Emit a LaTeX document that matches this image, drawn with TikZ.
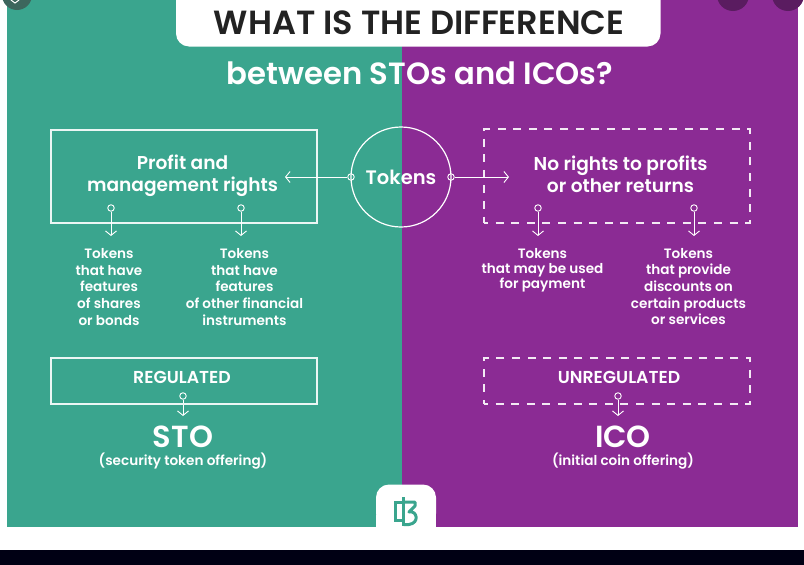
\documentclass[tikz,border=0pt]{standalone}
\usepackage{fontspec}
\setmainfont{Poppins}[UprightFont=* Medium,BoldFont=* SemiBold]
\usetikzlibrary{arrows.meta}
\definecolor{tealbg}{HTML}{3AA58E}
\definecolor{purpbg}{HTML}{8B2B94}
\definecolor{inkdark}{HTML}{222222}
\tikzset{
  x=1pt,y=-1pt,
  txt/.style={text=white,align=center,inner sep=0pt,font=\bfseries\fontsize{13.6}{16.6}\selectfont},
  head/.style={text=white,align=center,inner sep=0pt,font=\bfseries\fontsize{18.6}{22}\selectfont},
  bigname/.style={text=white,inner sep=0pt,font=\bfseries\fontsize{30.5}{33}\selectfont},
  sub/.style={text=white,inner sep=0pt,font=\bfseries\fontsize{13.6}{16}\selectfont},
  solidbox/.style={draw=white!90!tealbg,line width=1.1pt,inner sep=0pt,fill=none},
  dashbox/.style={draw=white!90!purpbg,line width=1.1pt,dash pattern=on 8pt off 7.6pt,dash phase=4pt,inner sep=0pt,fill=none},
  ring/.style={circle,draw=white,line width=0.9pt,minimum size=6.5pt,inner sep=0pt},
  conn/.style={draw=white,line width=0.9pt,-{Straight Barb[length=4.5pt,width=11pt,line width=0.9pt]}},
}
\begin{document}
\begin{tikzpicture}
\useasboundingbox (0,0) rectangle (804,565);
\fill[white] (0,0) rectangle (804,565);
\fill[tealbg] (7,0) rectangle (402,526.5);
\fill[purpbg] (402,0) rectangle (797.5,526.5);
\fill[black!92!blue] (0,550) rectangle (804,565);
% browser buttons
\begin{scope}
\clip (0,0) rectangle (804,565);
\fill[black!45!tealbg!70!gray] (17,-5) circle (15);
\fill[black!35!purpbg] (733,-5) circle (16);
\fill[black!35!purpbg] (788,-5) circle (16);
\end{scope}
\draw[white,line width=1pt,line cap=round] (11,0) -- (15,3) -- (19,0);
% title
\fill[white,rounded corners=13pt] (176,-20) rectangle (660.5,46.5);
\node[inner sep=0pt,text=inkdark,font=\bfseries\fontsize{33.5}{36}\selectfont] (title) at (419,22.5) {WHAT IS THE DIFFERENCE};
\node[inner sep=0pt,text=white,font=\bfseries\fontsize{30.7}{33}\selectfont] (subtitle) at (420,73.5) {between STOs and ICOs?};
% top row
\node[solidbox,minimum width=266pt,minimum height=93pt] (pbox) at (184,176.5) {};
\node[dashbox,minimum width=266pt,minimum height=94pt] (nbox) at (617,176) {};
\node[head] (ptext) at (182.5,175.5) {Profit and\\management rights};
\node[head] (ntext) at (620.5,174) {No rights to profits\\or other returns};
\node[circle,draw=white,line width=1.2pt,minimum size=100pt,inner sep=0pt] (tok) at (401,177) {};
\node[head,font=\bfseries\fontsize{19.5}{22}\selectfont] (toktext) at (401,177.5) {Tokens};
% rings
\node[ring] (r1) at (351,177) {};
\node[ring] (r2) at (451,177) {};
\coordinate (a1) at (285,177);
\coordinate (a2) at (509,177);
\draw[conn] (r1) -- (a1);
\draw[conn] (r2) -- (a2);
\foreach \n/\xx/\yy/\ye in {r3/111/208/236,r4/241/208/236,r5/538/208/236,r6/694/208/236,r7/183/396/416,r8/618/396/416}{
  \node[ring] (\n) at (\xx,\yy) {};
  \coordinate (\n e) at (\xx,\ye);
  \draw[conn] (\n) -- (\n e);
}
% item labels
\node[txt,anchor=north] (t1) at (109,248.5) {Tokens\\that have\\features\\of shares\\or bonds};
\node[txt,anchor=north] (t2) at (244.5,248.5) {Tokens\\that have\\features\\of other financial\\instruments};
\node[txt,anchor=north,font=\bfseries\fontsize{13.6}{15.2}\selectfont] (t3) at (542.5,248) {Tokens\\that may be used\\for payment};
\node[txt,anchor=north] (t4) at (688.5,248) {Tokens\\that provide\\discounts on\\certain products\\or services};
% lower boxes
\node[solidbox,minimum width=266pt,minimum height=46pt] (rbox) at (184,381) {};
\node[dashbox,minimum width=266pt,minimum height=46pt] (ubox) at (617,381) {};
\node[txt,font=\bfseries\fontsize{17.3}{18}\selectfont] (rtext) at (182,377.5) {REGULATED};
\node[txt,font=\bfseries\fontsize{17.3}{18}\selectfont] (utext) at (619,377.5) {UNREGULATED};
\node[bigname] (sto) at (183,437) {STO};
\node[bigname] (ico) at (623,437) {ICO};
\node[sub] (stos) at (183,461) {(security token offering)};
\node[sub] (icos) at (623,461) {(initial coin offering)};
% logo
\fill[white,rounded corners=13pt] (376,526.5) -- (376,484.5) -- (436,484.5) -- (436,526.5) -- cycle;
\fill[white] (376,515) rectangle (436,526.5);
\draw[tealbg,line width=3pt] (403.5,497) -- (403.5,526);
\draw[tealbg,line width=3pt] (403.5,502) -- (395,502) -- (395,520) -- (403.5,520);
\draw[tealbg,line width=3pt,line join=round] (403.5,502) -- (415,502) -- (415,506) -- (409,512) .. controls (417,510) and (420,523) .. (409,524.5) -- (403.5,524.5);
\end{tikzpicture}
\end{document}
